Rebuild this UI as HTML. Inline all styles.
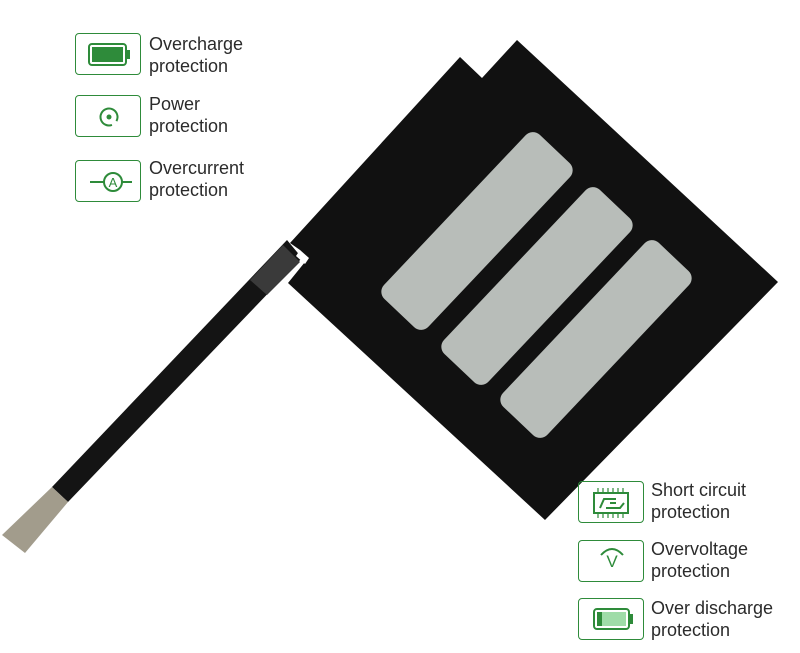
<!DOCTYPE html>
<html><head><meta charset="utf-8"><style>
html,body{margin:0;padding:0;background:#fff;}
body{width:800px;height:653px;position:relative;overflow:hidden;font-family:"Liberation Sans","DejaVu Sans",sans-serif;}
.box{position:absolute;width:66px;height:42px;border:1.5px solid #2e8b3a;border-radius:4px;box-sizing:border-box;}
.t{position:absolute;font-size:18px;line-height:22px;color:#2b2b2b;}
svg{position:absolute;left:0;top:0;}
</style></head><body>
<svg width="800" height="653">
  <polygon points="287,240 302,258 68,502 52,487" fill="#141414"/>
  <polygon points="283,245 300,262 267,295 250,280" fill="#3a3a3a"/>
  <polygon points="52,487 68,502 25,553 2,535" fill="#a29c8c"/>
  <polygon points="460,57 482,78 517,40 778,282 545,520 288,283 305,262 300,250 290,243" fill="#111"/>
  <polygon points="300,250 309,258 305,264 296,256" fill="#fff"/>
  <g fill="#b8bdb9">
    <rect x="364" y="200.5" width="226" height="61" rx="10" transform="rotate(-46.6 477 231)"/>
    <rect x="424" y="255.5" width="226" height="61" rx="10" transform="rotate(-46.6 537 286)"/>
    <rect x="483" y="308.5" width="226" height="61" rx="10" transform="rotate(-46.6 596 339)"/>
  </g>
  <g fill="none" stroke="#2e8b3a" stroke-width="2">
    <rect x="89" y="44" width="37" height="21" rx="3"/>
    <rect x="126" y="51" width="3" height="7" fill="#2e8b3a"/>
    <circle cx="109" cy="117" r="8.5" stroke-dasharray="47 6" transform="rotate(70 109 117)"/>
    <circle cx="113" cy="182" r="9"/>
    <line x1="90" y1="182" x2="104" y2="182"/><line x1="122" y1="182" x2="132" y2="182"/>
    <rect x="594" y="493" width="34" height="20"/>
    <path d="M600 508 L604 499 L616 499 M606 508 L620 508 L624 503 M610 503 L616 503"/>
    <path d="M598 492 v-4 M603 492 v-4 M608 492 v-4 M613 492 v-4 M618 492 v-4 M623 492 v-4 M598 514 v4 M603 514 v4 M608 514 v4 M613 514 v4 M618 514 v4 M623 514 v4" stroke-width="1.2"/>
    <path d="M601 555 Q612 543 623 555"/>
    <rect x="594" y="609" width="35" height="20" rx="3"/>
    <rect x="629" y="615" width="3" height="8" fill="#2e8b3a"/>
  </g>
  <rect x="92" y="47" width="31" height="15" fill="#2e8b3a"/>
  <circle cx="109" cy="117" r="2.5" fill="#2e8b3a"/>
  <text x="113" y="187" font-size="13" fill="#2e8b3a" text-anchor="middle" font-family="Liberation Sans">A</text>
  <text x="612" y="567" font-size="17" fill="#2e8b3a" text-anchor="middle" font-family="Liberation Sans">V</text>
  <rect x="597" y="612" width="29" height="14" fill="#9fdca8"/>
  <rect x="597" y="612" width="5" height="14" fill="#2e8b3a"/>
</svg>
<div class="box" style="left:75px;top:33px"></div>
<div class="box" style="left:75px;top:95px"></div>
<div class="box" style="left:75px;top:160px"></div>
<div class="box" style="left:578px;top:481px"></div>
<div class="box" style="left:578px;top:540px"></div>
<div class="box" style="left:578px;top:598px"></div>
<div class="t" style="left:149px;top:33px">Overcharge<br>protection</div>
<div class="t" style="left:149px;top:93px">Power<br>protection</div>
<div class="t" style="left:149px;top:157px">Overcurrent<br>protection</div>
<div class="t" style="left:651px;top:479px">Short circuit<br>protection</div>
<div class="t" style="left:651px;top:538px">Overvoltage<br>protection</div>
<div class="t" style="left:651px;top:597px">Over discharge<br>protection</div>
</body></html>
